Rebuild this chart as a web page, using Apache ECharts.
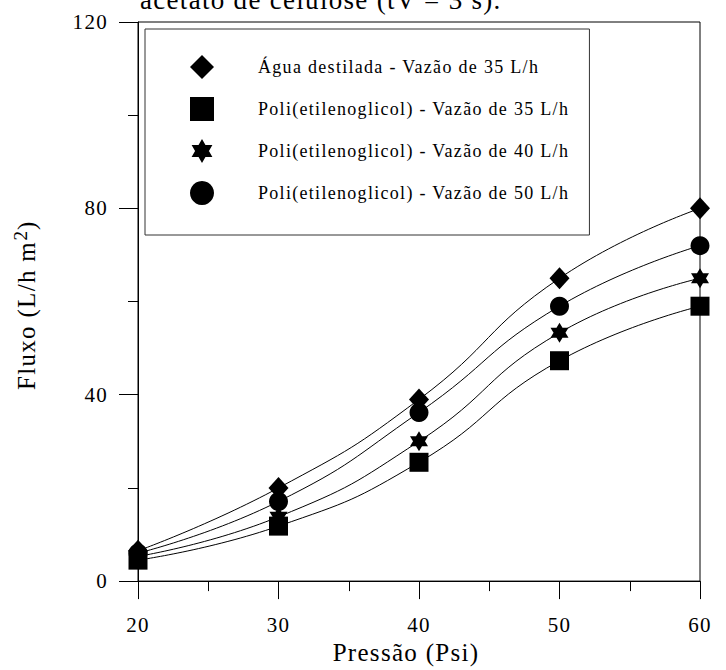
<!DOCTYPE html>
<html>
<head>
<meta charset="utf-8">
<script src="https://cdn.jsdelivr.net/npm/echarts@6/dist/echarts.min.js"></script>
<style>
  html, body { margin: 0; padding: 0; background: #fff; }
  #chart { width: 726px; height: 670px; }
  #chart text { letter-spacing: 1.3px; }
</style>
</head>
<body>
<div id="chart"></div>
<script>
// ---- data ----
const pressao = [20, 30, 40, 50, 60];
const aguaDest35 = [6.5, 20, 39, 65, 80];
const peg35 = [4.5, 11.8, 25.5, 47.3, 59];
const peg40 = [5.3, 13.8, 30, 53.3, 65];
const peg50 = [6, 17.1, 36.2, 59, 72];
const seriesNames = [
  'Água destilada - Vazão de 35 L/h',
  'Poli(etilenoglicol) - Vazão de 35 L/h',
  'Poli(etilenoglicol) - Vazão de 40 L/h',
  'Poli(etilenoglicol) - Vazão de 50 L/h'
];
const titleText = 'acetato de celulose (tV = 3 s).';
const xName = 'Pressão (Psi)';
const yName = 'Fluxo (L/h m{sup|2})';

const FONT = "'Liberation Serif', serif";
const starPath = 'path://M0,-10L8.66,5L-8.66,5Z M0,10L-8.66,-5L8.66,-5Z';
const symbols = ['diamond', 'rect', starPath, 'circle'];
const symbolSizes = [[20, 22], 19, [18, 20], 19];
const values = [aguaDest35, peg35, peg40, peg50];

const chart = echarts.init(document.getElementById('chart'), null, { renderer: 'svg' });

const series = values.map((vals, i) => ({
  name: seriesNames[i],
  type: 'line',
  data: pressao.map((p, j) => [p, vals[j]]),
  smooth: true,
  symbol: symbols[i],
  symbolSize: symbolSizes[i],
  showAllSymbol: true,
  lineStyle: { color: '#000', width: 1 },
  itemStyle: { color: '#000' },
  emphasis: { disabled: true }
}));

const option = {
  animation: false,
  backgroundColor: '#fff',
  textStyle: { fontFamily: FONT },
  title: {
    text: titleText,
    left: 140,
    top: -14,
    padding: 0,
    textStyle: { fontFamily: FONT, fontSize: 27, fontWeight: 'normal', color: '#000' }
  },
  legend: {
    orient: 'vertical',
    left: 145,
    top: 29,
    padding: [26, 68, 30, 45],
    itemGap: 18,
    itemWidth: 24,
    itemHeight: 24,
    borderColor: '#333',
    borderWidth: 1,
    selectedMode: false,
    data: seriesNames.map((n, i) => ({ name: n, icon: symbols[i] })),
    itemStyle: { color: '#000' },
    textStyle: { fontFamily: FONT, fontSize: 18, color: '#000', padding: [0, 0, 0, 39] }
  },
  grid: {
    left: 138, right: 26, top: 22, bottom: 87,
    show: true, borderColor: '#000', borderWidth: 1, backgroundColor: 'transparent'
  },
  xAxis: {
    type: 'value',
    min: 20, max: 60, interval: 10,
    name: xName,
    nameLocation: 'middle',
    nameGap: 58,
    nameTextStyle: { fontFamily: FONT, fontSize: 25, color: '#000', padding: [0, 26, 0, 0] },
    axisLine: { show: true, onZero: false, lineStyle: { color: '#000', width: 1 } },
    axisTick: { show: true, inside: false, length: 18, lineStyle: { color: '#000', width: 1 } },
    minorTick: { show: true, splitNumber: 2, length: 10, lineStyle: { color: '#000', width: 1 } },
    splitLine: { show: false },
    axisLabel: { fontFamily: FONT, fontSize: 21, color: '#000', margin: 33 }
  },
  yAxis: {
    type: 'value',
    min: 0, max: 120, interval: 40,
    name: yName,
    nameLocation: 'middle',
    nameGap: 96,
    nameTextStyle: {
      fontFamily: FONT, fontSize: 25, color: '#000',
      rich: {
        sup: { fontFamily: FONT, fontSize: 19, color: '#000', verticalAlign: 'top', padding: [0, 1, 12, 9] }
      }
    },
    axisLine: { show: true, onZero: false, lineStyle: { color: '#000', width: 1 } },
    axisTick: { show: true, inside: false, length: 19, lineStyle: { color: '#000', width: 1 } },
    minorTick: { show: true, splitNumber: 2, length: 10, lineStyle: { color: '#000', width: 1 } },
    splitLine: { show: false },
    axisLabel: { fontFamily: FONT, fontSize: 21, color: '#000', margin: 30 }
  },
  series: series
};

chart.setOption(option);
</script>
</body>
</html>
